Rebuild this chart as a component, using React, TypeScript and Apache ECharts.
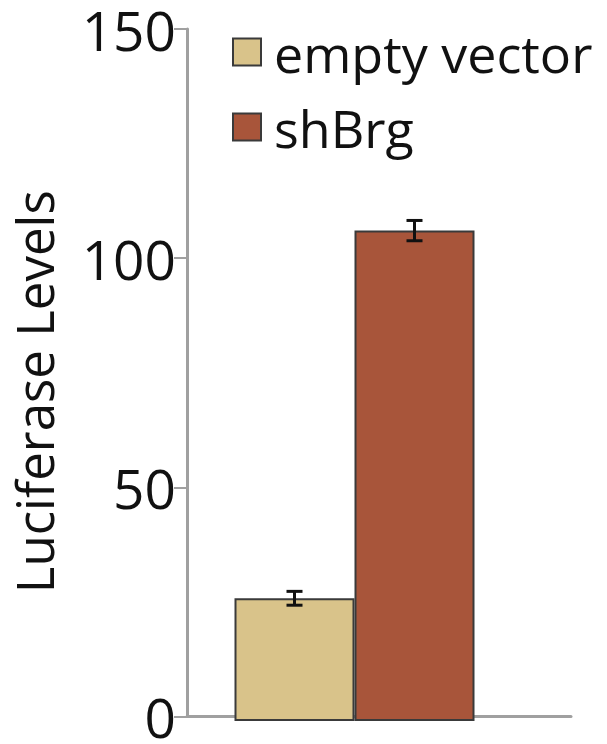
import React, { useEffect, useRef } from "react";
import * as echarts from "echarts";

const categories = ["Luciferase"];
const seriesNames = ["empty vector", "shBrg"];
const values = [26.6, 106.3];
const errors = [1.5, 2.2];
const colors = ["#D9C38A", "#A8553A"];
const yTicks = [0, 50, 100, 150];

export default function App() {
  const ref = useRef<HTMLDivElement>(null);
  useEffect(() => {
    if (!ref.current) return;
    const chart = echarts.init(ref.current, null, { renderer: "svg" });
    const font = "Open Sans";
    const series: any[] = seriesNames.map((name, i) => ({
      name,
      type: "bar",
      xAxisIndex: 1,
      yAxisIndex: 1,
      data: [values[i]],
      barWidth: 120,
      barGap: "0%",
      itemStyle: { color: colors[i], borderColor: "#3a3a3a", borderWidth: 2 },
    }));
    seriesNames.forEach((name, i) => {
      series.push({
        type: "custom",
        name: name + "-err",
        xAxisIndex: 1,
        yAxisIndex: 1,
        data: [[0, values[i] - errors[i], values[i] + errors[i]]],
        z: 10,
        renderItem: (params: any, api: any) => {
          const lo = api.coord([api.value(0), api.value(1)]);
          const hi = api.coord([api.value(0), api.value(2)]);
          const bw = 120;
          const x = lo[0] + (i === 0 ? -bw / 2 : bw / 2);
          const cap = 8;
          const st = { stroke: "#111", lineWidth: 3 };
          return {
            type: "group",
            children: [
              { type: "line", shape: { x1: x, y1: lo[1], x2: x, y2: hi[1] }, style: st },
              { type: "line", shape: { x1: x - cap, y1: lo[1], x2: x + cap, y2: lo[1] }, style: st },
              { type: "line", shape: { x1: x - cap, y1: hi[1], x2: x + cap, y2: hi[1] }, style: st },
            ],
          };
        },
      });
    });
    chart.setOption({
      animation: false,
      backgroundColor: "#ffffff",
      grid: [
        { left: 182, right: 36, top: 29, bottom: 23 },
        { left: 182, right: 80, top: 29, bottom: 23 },
      ],
      legend: {
        data: seriesNames,
        orient: "vertical",
        left: 232,
        top: 18,
        padding: 0,
        itemWidth: 28,
        itemHeight: 27,
        itemGap: 7,
        icon: "rect",
        textStyle: {
          fontFamily: font,
          fontSize: 52,
          color: "#111",
          lineHeight: 50,
          padding: [18, 0, 0, 8],
        },
      },
      xAxis: [
        {
          type: "category",
          gridIndex: 0,
          data: categories,
          axisLine: { lineStyle: { color: "#a0a0a0", width: 3 } },
          axisTick: { show: false },
          axisLabel: { show: false },
        },
        {
          type: "category",
          gridIndex: 1,
          data: categories,
          show: false,
        },
      ],
      yAxis: [
        {
          type: "value",
          gridIndex: 0,
          min: 0,
          max: 150,
          interval: 50,
          name: "Luciferase Levels",
          nameLocation: "middle",
          nameRotate: 90,
          nameGap: 128,
          nameTextStyle: { fontFamily: font, fontSize: 51, color: "#111", padding: [0, 38, 0, 0] },
          axisLine: { show: true, lineStyle: { color: "#a0a0a0", width: 3 } },
          axisTick: { show: true, length: 13, lineStyle: { color: "#a0a0a0", width: 2 } },
          axisLabel: {
            fontFamily: font,
            fontSize: 55,
            color: "#111",
            margin: 11,
            formatter: (v: number) => (yTicks.includes(v) ? String(v) : ""),
          },
          splitLine: { show: false },
        },
        {
          type: "value",
          gridIndex: 1,
          min: 0,
          max: 150,
          show: false,
        },
      ],
      series,
    });
    return () => chart.dispose();
  }, []);
  return <div ref={ref} style={{ width: 607, height: 744, position: "absolute", left: 0, top: 0 }} />;
}
